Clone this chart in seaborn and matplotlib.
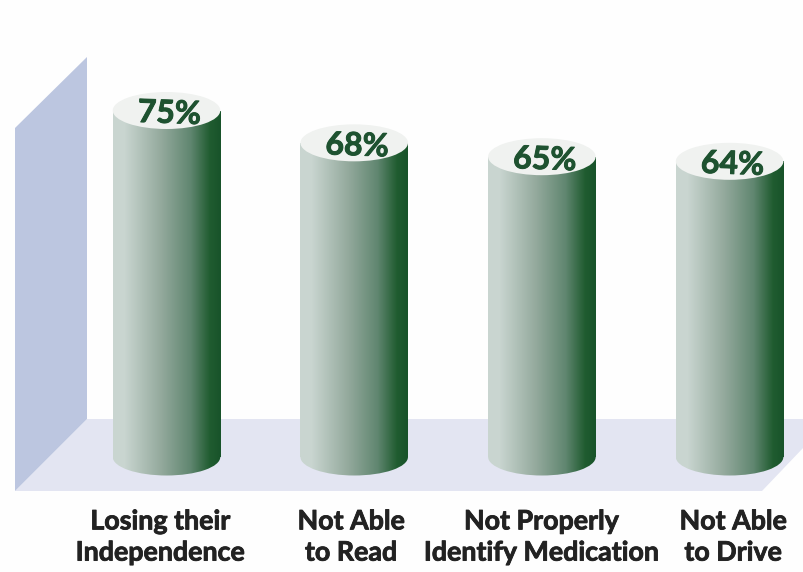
import numpy as np
import pandas as pd
import matplotlib
matplotlib.use("Agg")
import matplotlib.pyplot as plt
import matplotlib.patheffects as pe
from matplotlib.colors import LinearSegmentedColormap
from matplotlib.patches import Ellipse, Polygon, Rectangle
from matplotlib.transforms import Affine2D, ScaledTranslation
import seaborn as sns

# Survey results
categories = ["Losing their\nIndependence", "Not Able\nto Read",
              "Not Properly\nIdentify Medication", "Not Able\nto Drive"]
values = [75, 68, 65, 64]
value_labels = ["75%", "68%", "65%", "64%"]

W, H = 804, 572
sns.set_theme(style="white")
plt.rcParams["font.family"] = ["Lato", "DejaVu Sans"]

fig = plt.figure(figsize=(W / 100, H / 100), dpi=100, facecolor="#FEFEFE")
ax = fig.add_axes([0, 0, 1, 1])

frame = pd.DataFrame({"category": categories, "value": values})
sns.barplot(data=frame, x="category", y="value", order=categories,
            width=0.573, color="#7F9A8B", ax=ax, zorder=3)

# Horizontal scale: 187.7 px per category; vertical: 4.62 px per percent, floor at y=457
px_per_cat, px_per_val, base_px, first_px = 187.7, 4.62, 457.0, 166.5
xlim = (-first_px / px_per_cat, (W - first_px) / px_per_cat)
ylim = ((base_px - H) / px_per_val, base_px / px_per_val)
ax.set_xlim(*xlim)
ax.set_ylim(*ylim)
ax.set_axis_off()

# Backdrop planes in figure pixels
to_px = Affine2D().scale(1 / W, -1 / H).translate(0, 1) + fig.transFigure
ax.add_patch(Polygon([(15, 491), (87, 419), (804, 419), (804, 447), (762, 491)],
                     closed=True, fc="#E3E5F2", ec="none", transform=to_px, zorder=1))
ax.add_patch(Polygon([(15, 128), (87, 57), (87, 419), (15, 491)],
                     closed=True, fc="#BCC6E0", ec="none", transform=to_px, zorder=1))

shade = LinearSegmentedColormap.from_list(
    "cylinder", [(0, "#C9D5D0"), (0.1, "#CAD6D1"), (0.45, "#93A99C"),
                 (0.72, "#608670"), (0.9, "#205C30"), (1, "#18532A")])
ramp = np.linspace(0, 1, 256)[None, :]
cap_h = 37 / px_per_val
# Percentages sit a little right of and below each cap centre
label_shift = ScaledTranslation(3 / 100, -3 / 100, fig.dpi_scale_trans)

for bar, label in zip(list(ax.patches), value_labels):
    if bar.get_height() <= 0:
        continue
    x0, w, h = bar.get_x(), bar.get_width(), bar.get_height()
    xc = x0 + w / 2
    bar.set_visible(False)
    body = Rectangle((x0, 0), w, h, transform=ax.transData)
    foot = Ellipse((xc, 0), w, cap_h, transform=ax.transData)
    for clip in (body, foot):
        im = ax.imshow(ramp, cmap=shade, aspect="auto", zorder=3,
                       extent=(x0, x0 + w, -cap_h, h), interpolation="bilinear")
        im.set_clip_path(clip)
    ax.add_patch(Ellipse((xc, h), w, cap_h, fc="#F0F2F0", ec="none", zorder=4))
    ax.text(xc, h, label, ha="center", va="center", color="#1E5230",
            fontsize=23, fontweight="bold", zorder=5, rotation=-2,
            transform=ax.transData + label_shift,
            path_effects=[pe.withStroke(linewidth=0.7, foreground="#1E5230")])

ax.set_xlim(*xlim)
ax.set_ylim(*ylim)

# Category captions sit slightly off the cylinder centres
caption_px = [160, 351, 541, 733]
for text, px in zip(categories, caption_px):
    ax.text(px, 537, text, transform=to_px, ha="center", va="center",
            color="#222222", fontsize=19.3, fontweight="bold", linespacing=1.36,
            path_effects=[pe.withStroke(linewidth=0.6, foreground="#222222")])

fig.savefig("out.png", dpi=100, facecolor=fig.get_facecolor())
